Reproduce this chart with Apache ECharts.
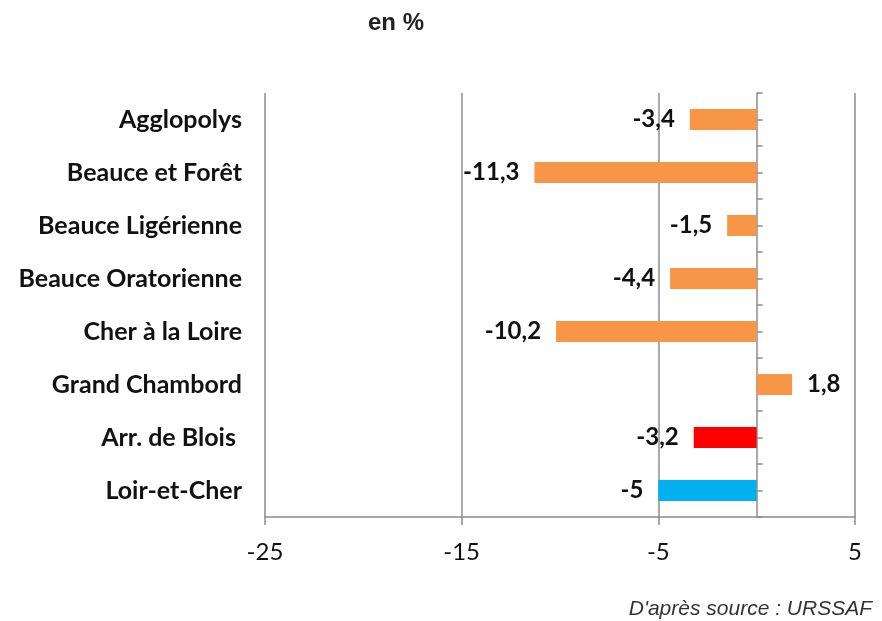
<!DOCTYPE html>
<html>
<head>
<meta charset="utf-8">
<script src="https://cdn.jsdelivr.net/npm/echarts@6/dist/echarts.min.js"></script>
<style>
  html, body { margin: 0; padding: 0; background: #fff; }
  #chart { width: 882px; height: 621px; }
</style>
</head>
<body>
<div id="chart"></div>
<script>
const categories = [
  'Agglopolys',
  'Beauce et Forêt',
  'Beauce Ligérienne',
  'Beauce Oratorienne',
  'Cher à la Loire',
  'Grand Chambord',
  'Arr. de Blois ',
  'Loir-et-Cher',
]
const values = [-3.4, -11.3, -1.5, -4.4, -10.2, 1.8, -3.2, -5]
const barColors = ['#F79646', '#F79646', '#F79646', '#F79646', '#F79646', '#F79646', '#FF0000', '#00B0F0']
const xTicks = [-25, -15, -5, 5]

const chart = echarts.init(document.getElementById('chart'))

// zero-line ticks: one at every half category
const halfSteps = categories.flatMap(() => ['', ''])

const axisGrey = '#8c8c8c'
const option = {
  animation: false,
  title: [
    {
      text: 'en %',
      left: 391,
      top: 6,
      textAlign: 'center',
      textStyle: { fontFamily: 'Liberation Sans', fontWeight: 'bold', fontSize: 24, color: '#222' },
    },
    {
      text: "D'après source : URSSAF",
      right: 5,
      top: 594,
      textStyle: { fontFamily: 'Liberation Sans', fontStyle: 'italic', fontWeight: 'normal', fontSize: 21, color: '#333' },
    },
  ],
  grid: { left: 265, right: 27, top: 93, bottom: 104, containLabel: false },
  xAxis: {
    type: 'value',
    min: xTicks[0],
    max: xTicks[xTicks.length - 1],
    interval: 10,
    axisLine: { show: true, lineStyle: { color: axisGrey, width: 1.5 } },
    axisTick: { show: true, length: 8, lineStyle: { color: axisGrey, width: 1.5 } },
    splitLine: { show: true, lineStyle: { color: axisGrey, width: 1.5 } },
    axisLabel: {
      margin: 23,
      fontFamily: 'Lato',
      fontSize: 24,
      color: '#111',
      formatter: v => String(v),
    },
  },
  yAxis: [
    {
      type: 'category',
      data: categories,
      inverse: true,
      position: 'left',
      axisLine: { show: false, onZero: false },
      axisTick: { show: false },
      axisLabel: {
        margin: 23,
        fontFamily: 'Lato',
        fontWeight: 'bold',
        fontSize: 25,
        color: '#111',
      },
    },
    {
      type: 'category',
      data: halfSteps,
      inverse: true,
      position: 'right',
      axisLine: { show: true, onZero: true, lineStyle: { color: axisGrey, width: 1.5 } },
      axisTick: { show: true, length: 6, lineStyle: { color: axisGrey, width: 1.5 } },
      axisLabel: { show: false },
    },
  ],
  series: [
    {
      type: 'bar',
      yAxisIndex: 0,
      barWidth: 21,
      data: values.map((v, i) => ({
        value: v,
        itemStyle: { color: barColors[i] },
        label: { position: v < 0 ? 'left' : 'right' },
      })),
      label: {
        show: true,
        distance: 15,
        fontFamily: 'Lato',
        fontWeight: 'bold',
        fontSize: 24,
        color: '#111',
        formatter: p => String(p.value).replace('.', ','),
      },
    },
  ],
}

chart.setOption(option)
</script>
</body>
</html>
